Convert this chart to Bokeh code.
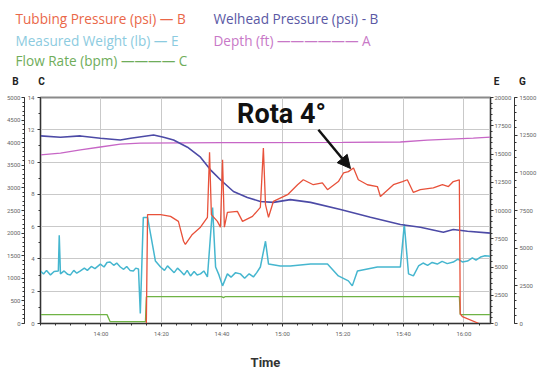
from bokeh.plotting import figure
from bokeh.models import Range1d, LinearAxis, FixedTicker, Label, Arrow, NormalHead
from bokeh.layouts import column
from bokeh.core.properties import value
from bokeh.embed import file_html
from bokeh.resources import INLINE

# time axis: minutes after midnight
time_ticks = [840, 860, 880, 900, 920, 940, 960]
time_labels = ["14:00", "14:20", "14:40", "15:00", "15:20", "15:40", "16:00"]

# Welhead pressure (psi) - axis B
wh_time = [820, 826.6, 833.2, 839.8, 846.4, 849.8, 857.4, 860.7, 864, 868.6, 872.9, 876.2, 879.5,
           883.8, 888.4, 892.7, 897, 902.6, 909.3, 919.2, 929.1, 939, 945.6, 953.2, 956.5, 961.2, 968.8]
wh_psi = [4150, 4120, 4150, 4100, 4060, 4100, 4170, 4120, 4060, 3900, 3680, 3400, 3180,
          2920, 2790, 2700, 2680, 2740, 2680, 2520, 2350, 2190, 2130, 2020, 2080, 2040, 2000]

# Tubbing pressure (psi) - axis B
tp_time = [855, 855.4, 859.7, 863, 865.6, 867.3, 867.9, 870.2, 872.9, 875.2, 875.9, 876.5, 878.5,
           879.5, 880.2, 880.8, 881.8, 885.1, 886.8, 890.1, 892.7, 893.7, 894.4, 895.4, 897, 901.7,
           905, 906.9, 910.2, 913.2, 914.9, 918.5, 920.2, 921.8, 923.5, 925.1, 928.1, 931.4, 932.4,
           936.7, 939.7, 941.3, 943.3, 945.6, 949.9, 952.9, 954.9, 956.5, 958.5, 958.8, 959.5, 965]
tp_psi = [0, 2410, 2410, 2370, 2260, 1820, 1750, 1970, 2130, 2350, 3790, 2410, 2260,
          2130, 3620, 2130, 2460, 2480, 2260, 2370, 2570, 3880, 2630, 2350, 2700, 2850,
          3070, 3180, 3070, 3110, 2960, 3140, 3330, 3360, 3440, 3180, 3070, 3030, 2810,
          3070, 3140, 3180, 2900, 2960, 3000, 3070, 3030, 3140, 3180, 220, 150, 0]

# Measured weight (lb) - axis E
wt_time = [820, 821, 822, 823.3, 824.5, 825.9, 826.2, 826.6, 827.8, 829, 829.9, 831, 832, 833.2,
           834.5, 835.5, 836.8, 838, 839.8, 841, 842, 843, 844.2, 845.2, 846.4, 847.5, 848.5,
           849.6, 850.7, 851.5, 852.4, 853, 854, 855.4, 856.4, 858, 859.7, 861, 862, 863, 864.2,
           865.3, 866.3, 867.5, 868.5, 869.6, 870.8, 871.8, 872.9, 874, 875.2, 876.9, 877.9, 879,
           880.2, 881.8, 883, 884.5, 886.1, 887.5, 889, 890.4, 891.5, 892.7, 894.4, 895.4, 899.3,
           902.6, 909.3, 914.9, 918.5, 921.8, 923.1, 924.8, 931.4, 939, 940.3, 941.7, 943.3, 945,
           946.5, 948, 949.5, 951.2, 952.8, 954.5, 956.5, 958, 959.5, 961.2, 962.8, 964, 965.5,
           967, 968.8]
wt_lb = [4650, 4380, 4700, 4300, 4600, 4650, 7810, 4390, 4650, 4350, 4300, 4700, 4450, 4650,
         4900, 4700, 5050, 4850, 5260, 5000, 5400, 5440, 5150, 5350, 5000, 4800, 5050,
         4700, 4650, 4900, 4830, 880, 9390, 9390, 7900, 5530, 5000, 4700, 5100, 4830, 4500,
         4900, 4650, 4300, 4700, 4210, 4600, 4300, 4390, 4650, 4120, 10260, 5000, 4300,
         3330, 4390, 4100, 4500, 4390, 4000, 4400, 4120, 4500, 5000, 7280, 5260, 5090,
         5090, 5260, 5260, 4210, 3770, 3330, 4650, 5000, 5000, 8770, 4390, 4210, 5090,
         5350, 5150, 5400, 5260, 5500, 5300, 5440, 5700, 5450, 5530, 5800, 5600, 5880,
         6000, 5960]

# Depth (ft) - axis A
dp_time = [820, 826.6, 833.2, 839.8, 846.4, 853, 880, 920, 939, 947.9, 963.1, 968.8]
dp_ft = [7460, 7540, 7680, 7810, 7940, 7980, 8000, 8010, 8030, 8110, 8200, 8250]

# Flow rate (bpm) - axis C
fr_time = [820, 842, 843, 854.7, 855, 880, 880.5, 881, 958.5, 958.8, 968.8]
fr_bpm = [0.55, 0.55, 0.12, 0.12, 1.66, 1.66, 1.6, 1.66, 1.66, 0.55, 0.55]

# legend entries
legend_texts = ["Tubbing Pressure (psi) \u2014 B", "Welhead Pressure (psi) - B",
                "Measured Weight (lb) \u2014 E", "Depth (ft) \u2014\u2014\u2014\u2014\u2014\u2014 A",
                "Flow Rate (bpm) \u2014\u2014\u2014\u2014 C"]
axis_letters = ["B", "C", "E", "G"]

RED = "#e8513a"
BLUE = "#4c4aa6"
CYAN = "#45b6cf"
PINK = "#c766c6"
GREEN = "#6fb345"
LEG_COLORS = ["#ea6748", "#5a58a4", "#8ccbe0", "#c878c7", "#6fad5a"]

W = 539

# ---------- header with legend ----------
h = figure(width=W, height=89, output_backend="svg", toolbar_location=None,
           x_range=Range1d(0, W), y_range=Range1d(89, 0),
           min_border=0, x_axis_type=None, y_axis_type=None)
try:
    h.frame_align = False
except Exception:
    pass
h.outline_line_color = None
h.grid.visible = False
h.text(x=[15, 213, 15, 213, 15], y=[18, 18, 40, 40, 60], text=legend_texts, text_color=LEG_COLORS,
       text_font=value("Open Sans"), text_font_size="13.6px", text_baseline="middle")
h.text(x=[15, 41, 496, 522], y=[81, 81, 81, 81], text=axis_letters, text_color="#222222",
       text_font=value("Roboto"), text_font_size="10px", text_font_style="bold",
       text_align="center", text_baseline="middle")

# ---------- main plot ----------
p = figure(width=W, height=283, output_backend="svg", toolbar_location=None,
           x_range=Range1d(820, 968.8), y_range=Range1d(0, 14),
           min_border_left=40, min_border_right=49, min_border_top=8, min_border_bottom=47)
try:
    p.frame_align = False
except Exception:
    pass
p.extra_y_ranges = {"B": Range1d(0, 5000), "E": Range1d(0, 20000),
                    "G": Range1d(0, 15000), "A": Range1d(0, 10000)}

def style_axis(ax, size="6px", tick=3, standoff=1):
    ax.axis_line_color = "#333333"
    ax.major_tick_line_color = "#333333"
    ax.minor_tick_line_color = "#333333"
    ax.major_tick_out = tick
    ax.major_tick_in = 0
    ax.minor_tick_out = 2
    ax.minor_tick_in = 0
    ax.major_label_text_font_size = size
    ax.major_label_text_color = "#666666"
    ax.major_label_standoff = standoff
    ax.major_label_text_font = "Roboto"

p.yaxis.ticker = FixedTicker(ticks=list(range(0, 15, 2)), minor_ticks=list(range(0, 15, 1)))
style_axis(p.yaxis[0], standoff=3)

axB = LinearAxis(y_range_name="B",
                 ticker=FixedTicker(ticks=list(range(0, 5001, 500)), minor_ticks=list(range(0, 5001, 100))))
style_axis(axB)
p.add_layout(axB, "left")

axE = LinearAxis(y_range_name="E",
                 ticker=FixedTicker(ticks=list(range(0, 20001, 2500)), minor_ticks=list(range(0, 20001, 500))))
style_axis(axE, standoff=1)
p.add_layout(axE, "right")

axG = LinearAxis(y_range_name="G",
                 ticker=FixedTicker(ticks=list(range(0, 15001, 2500)), minor_ticks=list(range(0, 15001, 500))))
style_axis(axG, standoff=2)
p.add_layout(axG, "right")

p.xaxis.ticker = FixedTicker(ticks=time_ticks, minor_ticks=list(range(820, 970, 5)))
p.xaxis.major_label_overrides = {t: l for t, l in zip(time_ticks, time_labels)}
style_axis(p.xaxis[0], standoff=3)
p.xaxis.axis_label = "Time"
p.xaxis.axis_label_text_font = "Roboto"
p.xaxis.axis_label_text_font_style = "bold"
p.xaxis.axis_label_text_font_size = "13px"
p.xaxis.axis_label_text_color = "#333333"
p.xaxis.axis_label_standoff = 15

p.xgrid.ticker = FixedTicker(ticks=time_ticks)
p.ygrid.ticker = FixedTicker(ticks=list(range(0, 15, 2)))
p.grid.grid_line_color = "#c9c9c9"
p.outline_line_color = "#8a8a8a"
p.outline_line_width = 2

p.line(dp_time, dp_ft, y_range_name="A", color=PINK, line_width=1.3)
p.line(fr_time, fr_bpm, color=GREEN, line_width=1.3)
p.line(wt_time, wt_lb, y_range_name="E", color=CYAN, line_width=1.5)
p.line(wh_time, wh_psi, y_range_name="B", color=BLUE, line_width=1.6)
p.line(tp_time, tp_psi, y_range_name="B", color=RED, line_width=1.3)

p.add_layout(Label(x=899.7, y=13.0, text="Rota 4\u00b0", text_color="#111111", text_font="Roboto",
                   text_font_size="27px", text_font_style="bold",
                   text_align="center", text_baseline="middle"))
p.add_layout(Arrow(x_start=911.9, y_start=12.0, x_end=922.5, y_end=9.6,
                   line_color="#111111", line_width=2.5,
                   end=NormalHead(size=13, fill_color="#111111", line_color="#111111")))

layout = column(h, p, spacing=0)
open("out.html", "w").write(file_html(layout, INLINE))
